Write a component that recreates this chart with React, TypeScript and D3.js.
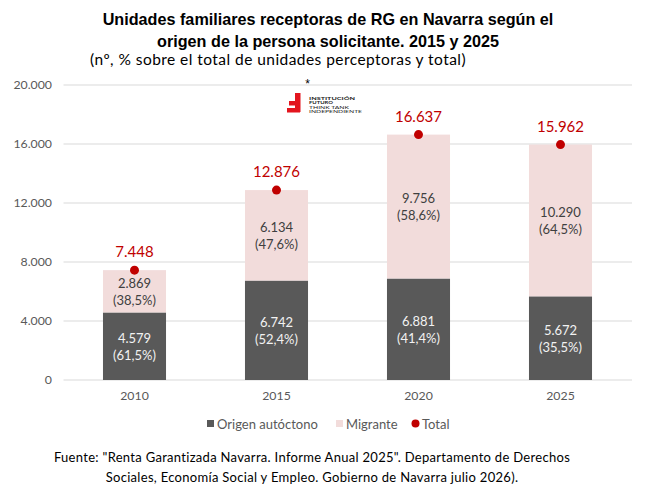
import React from "react";
import * as d3 from "d3";

const years = ["2010", "2015", "2020", "2025"];
const autoctono = [4579, 6742, 6881, 5672];
const migrante = [2869, 6134, 9756, 10290];
const total = [7448, 12876, 16637, 15962];
const pctAutoctono = ["61,5%", "52,4%", "41,4%", "35,5%"];
const pctMigrante = ["38,5%", "47,6%", "58,6%", "64,5%"];
const yTicks = [0, 4000, 8000, 12000, 16000, 20000];

const W = 649;
const H = 497;
const FONT = "Lato, 'DejaVu Sans', sans-serif";
const DARK = "#595959";
const PINK = "#F2DCDB";
const RED = "#C00000";

const locale = d3.formatLocale({ decimal: ",", thousands: ".", grouping: [3], currency: ["", "€"] });
const fmt = locale.format(",d");

export default function App() {
  const y = d3.scaleLinear().domain([0, 20000]).range([380, 85]);
  const x = d3
    .scaleBand<string>()
    .domain(years)
    .range([63.5, 631.5])
    .paddingInner(0.556)
    .paddingOuter(0.278);
  const bw = x.bandwidth();

  return (
    <svg width={W} height={H} style={{ position: "absolute", left: 0, top: 0, background: "#fff" }}>
      <rect x={0} y={0} width={W} height={H} fill="#fff" />
      {/* Title */}
      <text x={328} y={25} textAnchor="middle" fontFamily="'Liberation Sans', Arial, sans-serif" fontWeight="bold" fontSize={16.2} fill="#000">
        Unidades familiares receptoras de RG en Navarra según el
      </text>
      <text x={328} y={47} textAnchor="middle" fontFamily="'Liberation Sans', Arial, sans-serif" fontWeight="bold" fontSize={16.2} fill="#000">
        origen de la persona solicitante. 2015 y 2025
      </text>
      <text x={278} y={65} textAnchor="middle" fontFamily={FONT} fontSize={15.5} letterSpacing={0.45} fill="#000">
        (nº, % sobre el total de unidades perceptoras y total)
      </text>

      {/* Gridlines */}
      {yTicks.map((t) => (
        <g key={t}>
          <line x1={63.5} x2={632} y1={y(t)} y2={y(t)} stroke="#D9D9D9" strokeWidth={1} />
          <text x={52} y={y(t)} dy="0.35em" textAnchor="end" fontFamily={FONT} fontSize={12.3} fill={DARK}>
            {fmt(t)}
          </text>
        </g>
      ))}

      {/* Logo */}
      <g>
        <text x={307.5} y={88} textAnchor="middle" fontFamily="'Liberation Sans', Arial, sans-serif" fontSize={12} fill="#000">*</text>
        <rect x={295} y={93} width={5.5} height={19} fill="#E3151E" />
        <rect x={289} y={101} width={11} height={4.5} fill="#E3151E" />
        <rect x={287} y={108} width={13} height={4.5} fill="#E3151E" />
        <text x={309} y={99.5} fontFamily={FONT} fontSize={4.2} fontWeight="bold" fill="#222" textLength={46} lengthAdjust="spacingAndGlyphs">INSTITUCIÓN</text>
        <text x={309} y={104} fontFamily={FONT} fontSize={4.2} fontWeight="bold" fill="#222" textLength={24} lengthAdjust="spacingAndGlyphs">FUTURO</text>
        <text x={309} y={108.5} fontFamily={FONT} fontSize={4.2} fill="#222" textLength={40} lengthAdjust="spacingAndGlyphs">THINK TANK</text>
        <text x={309} y={113} fontFamily={FONT} fontSize={4.2} fill="#222" textLength={53} lengthAdjust="spacingAndGlyphs">INDEPENDIENTE</text>
      </g>

      {/* Bars */}
      {years.map((yr, i) => {
        const x0 = x(yr) as number;
        const cx = x0 + bw / 2;
        const yA = y(autoctono[i]);
        const yT = y(autoctono[i] + migrante[i]);
        const midA = (y(0) + yA) / 2;
        const midM = (yA + yT) / 2;
        return (
          <g key={yr}>
            <rect x={x0} y={yA} width={bw} height={y(0) - yA} fill={DARK} />
            <rect x={x0} y={yT} width={bw} height={yA - yT} fill={PINK} />
            <text x={cx} y={midA - 8} dy="0.35em" textAnchor="middle" fontFamily={FONT} fontSize={13} fill="#F2F2F2">
              {fmt(autoctono[i])}
            </text>
            <text x={cx} y={midA + 9} dy="0.35em" textAnchor="middle" fontFamily={FONT} fontSize={13} fill="#F2F2F2">
              ({pctAutoctono[i]})
            </text>
            <text x={cx} y={midM - 8} dy="0.35em" textAnchor="middle" fontFamily={FONT} fontSize={13} fill="#404040">
              {fmt(migrante[i])}
            </text>
            <text x={cx} y={midM + 9} dy="0.35em" textAnchor="middle" fontFamily={FONT} fontSize={13} fill="#404040">
              ({pctMigrante[i]})
            </text>
            <circle cx={cx} cy={y(total[i])} r={4.5} fill={RED} />
            <text x={cx} y={y(total[i]) - 18} dy="0.35em" textAnchor="middle" fontFamily={FONT} fontSize={15} fill={RED}>
              {fmt(total[i])}
            </text>
            <text x={cx} y={396} dy="0.35em" textAnchor="middle" fontFamily={FONT} fontSize={12.3} fill={DARK}>
              {yr}
            </text>
          </g>
        );
      })}

      {/* Legend */}
      <g fontFamily={FONT} fontSize={13} fill={DARK}>
        <rect x={207} y={420} width={7} height={7} fill={DARK} />
        <text x={217} y={424} dy="0.35em">Origen autóctono</text>
        <rect x={336} y={420} width={7} height={7} fill={PINK} />
        <text x={346} y={424} dy="0.35em">Migrante</text>
        <circle cx={415.5} cy={423.5} r={4} fill={RED} />
        <text x={422} y={424} dy="0.35em">Total</text>
      </g>

      {/* Footer */}
      <text x={312} y={457} dy="0.35em" textAnchor="middle" fontFamily={FONT} fontSize={13} letterSpacing={0.3} fill="#000">
        Fuente: "Renta Garantizada Navarra. Informe Anual 2025". Departamento de Derechos
      </text>
      <text x={312} y={477} dy="0.35em" textAnchor="middle" fontFamily={FONT} fontSize={13} letterSpacing={0.3} fill="#000">
        Sociales, Economía Social y Empleo. Gobierno de Navarra julio 2026).
      </text>
    </svg>
  );
}
